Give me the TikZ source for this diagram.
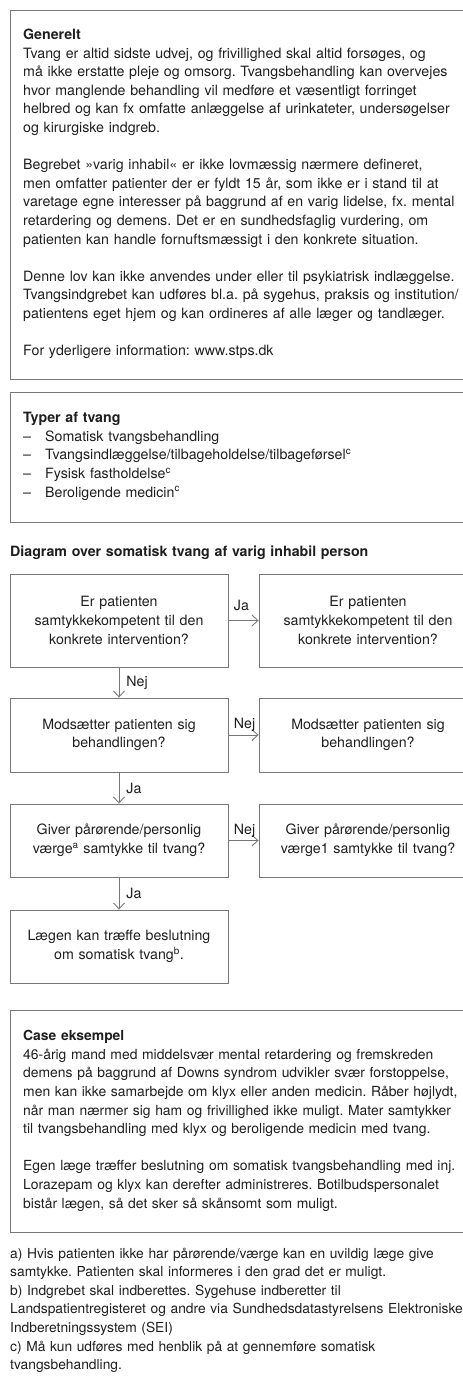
\documentclass[tikz,border=0pt]{standalone}
\usepackage{fontspec}
\setmainfont{TeX Gyre Heros}
\usetikzlibrary{arrows.meta}
\definecolor{rammegraa}{HTML}{777777}
\definecolor{tekstsort}{HTML}{1E1E1E}
\frenchspacing

\begin{document}
\begin{tikzpicture}[x=1pt,y=-1pt,
            font=\fontsize{14.2pt}{18.6pt}\selectfont, text=tekstsort,
            ramme/.style={draw=rammegraa, line width=0.9pt},
            boks/.style={ramme, minimum width=218pt, text width=204pt, align=center, inner sep=0pt},
            tekstblok/.style={anchor=base west, inner sep=0pt, text width=520pt, align=left},
            pil/.style={draw=rammegraa, line width=0.9pt, -{Straight Barb[length=6pt,width=11pt]}},
            svar/.style={inner sep=0pt}]
            \useasboundingbox (0,0) rectangle (463,1376);
            \clip (0,0) rectangle (463,1376);

            % generelt
            \draw[ramme] (10,10) rectangle (480,379);
            \node[tekstblok] (generelt) at (23,39.5) {\textbf{Generelt}\\
                Tvang er altid sidste udvej, og frivillighed skal altid forsøges, og\\
                må ikke erstatte pleje og omsorg. Tvangsbehandling kan overvejes\\
                hvor manglende behandling vil medføre et væsentligt forringet\\
                helbred og kan fx omfatte anlæggelse af urinkateter, undersøgelser\\
                og kirurgiske indgreb.\\[18.6pt]
                Begrebet »varig inhabil« er ikke lovmæssig nærmere defineret,\\
                men omfatter patienter der er fyldt 15 år, som ikke er i stand til at\\
                varetage egne interesser på baggrund af en varig lidelse, fx. mental\\
                retardering og demens. Det er en sundhedsfaglig vurdering, om\\
                patienten kan handle fornuftsmæssigt i den konkrete situation.\\[18.6pt]
                Denne lov kan ikke anvendes under eller til psykiatrisk indlæggelse.\\
                Tvangsindgrebet kan udføres bl.a. på sygehus, praksis og institution/\\
                patientens eget hjem og kan ordineres af alle læger og tandlæger.\\[18.6pt]
                For yderligere information: www.stps.dk};

            % typer af tvang
            \draw[ramme] (10,392) rectangle (480,522);
            \node[tekstblok] (typer) at (23,422.7) {\textbf{Typer af tvang}\\
                \makebox[22pt][l]{–}Somatisk tvangsbehandling\\
                \makebox[22pt][l]{–}Tvangsindlæggelse/tilbageholdelse/tilbageførsel\textsuperscript{c}\\
                \makebox[22pt][l]{–}Fysisk fastholdelse\textsuperscript{c}\\
                \makebox[22pt][l]{–}Beroligende medicin\textsuperscript{c}};

            \node[tekstblok] (diagramtitel) at (10,556.7) {\textbf{Diagram over somatisk tvang af varig inhabil person}};

            % flowdiagram
            \node[boks, minimum height=93pt] (kompetent) at (119,620.5) {Er patienten\\ samtykkekompetent til den\\ konkrete intervention?};
            \node[boks, minimum height=93pt] (kompetentja) at (368,620.5) {Er patienten\\ samtykkekompetent til den\\ konkrete intervention?};
            \node[boks, minimum height=74pt] (modsaet) at (119,735) {Modsætter patienten sig\\ behandlingen?};
            \node[boks, minimum height=74pt] (modsaetnej) at (368,735) {Modsætter patienten sig\\ behandlingen?};
            \node[boks, minimum height=73pt] (vaerge) at (119,840.5) {Giver pårørende/personlig\\ værge\textsuperscript{a} samtykke til tvang?};
            \node[boks, minimum height=73pt] (vaergenej) at (368,840.5) {Giver pårørende/personlig\\ værge1 samtykke til tvang?};
            \node[boks, minimum height=73pt] (laege) at (119,946.5) {Lægen kan træffe beslutning\\ om somatisk tvang\textsuperscript{b}.};

            \draw[pil] (kompetent) -- node[svar, pos=0, anchor=base west, xshift=5pt, yshift=10.5pt] {Ja} (kompetentja);
            \draw[pil] (modsaet) -- node[svar, pos=0, anchor=base west, xshift=5pt, yshift=6.5pt] {Nej} (modsaetnej);
            \draw[pil] (vaerge) -- node[svar, pos=0, anchor=base west, xshift=5pt, yshift=6.5pt] {Nej} (vaergenej);
            \draw[pil] (kompetent) -- node[svar, anchor=west, xshift=7pt] {Nej} (modsaet);
            \draw[pil] (modsaet) -- node[svar, anchor=west, xshift=7pt] {Ja} (vaerge);
            \draw[pil] (vaerge) -- node[svar, anchor=west, xshift=7pt] {Ja} (laege);

            % case
            \draw[ramme] (10,1010) rectangle (480,1232);
            \node[tekstblok, font=\fontsize{13.9pt}{18.6pt}\selectfont] (case) at (23,1040.7) {\textbf{Case eksempel}\\
                46-årig mand med middelsvær mental retardering og fremskreden\\
                demens på baggrund af Downs syndrom udvikler svær forstoppelse,\\
                men kan ikke samarbejde om klyx eller anden medicin. Råber højlydt,\\
                når man nærmer sig ham og frivillighed ikke muligt. Mater samtykker\\
                til tvangsbehandling med klyx og beroligende medicin med tvang.\\[18.6pt]
                Egen læge træffer beslutning om somatisk tvangsbehandling med inj.\\
                Lorazepam og klyx kan derefter administreres. Botilbudspersonalet\\
                bistår lægen, så det sker så skånsomt som muligt.};

            % fodnoter
            \node[tekstblok, font=\fontsize{13.8pt}{18.6pt}\selectfont] (noter) at (10,1258) {a) Hvis patienten ikke har pårørende/værge kan en uvildig læge give\\
                samtykke. Patienten skal informeres i den grad det er muligt.\\
                b) Indgrebet skal indberettes. Sygehuse indberetter til\\
                Landspatientregisteret og andre via Sundhedsdatastyrelsens Elektroniske\\
                Indberetningssystem (SEI)\\
                c) Må kun udføres med henblik på at gennemføre somatisk\\
                tvangsbehandling.};
        \end{tikzpicture}
\end{document}
